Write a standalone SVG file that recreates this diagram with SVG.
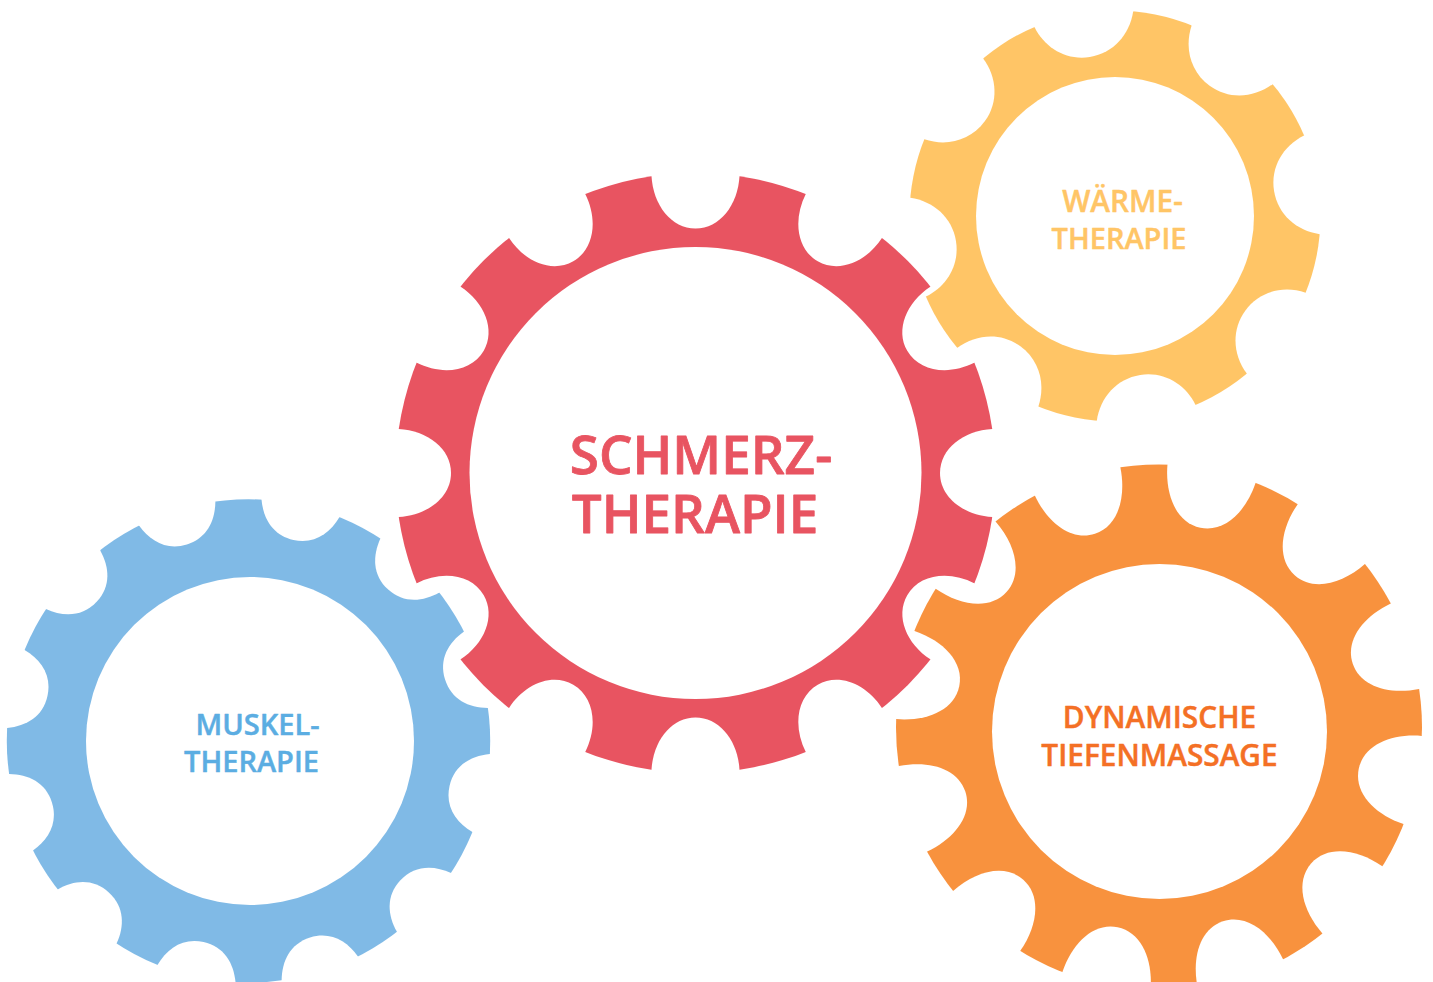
<svg xmlns="http://www.w3.org/2000/svg" width="1433" height="982" viewBox="0 0 1433 982">
<style>
text{font-family:"Open Sans","Noto Sans","Liberation Sans",sans-serif;font-weight:600;text-anchor:middle;stroke-linejoin:round}
.s{font-size:29px;stroke-width:.45px}
.m{font-size:29.8px;stroke-width:.45px}
.l{font-size:53px;stroke-width:.8px}
.red{fill:#E85461;stroke:#E85461}
.yel{fill:#FFC566;stroke:#FFC566}
.ora{fill:#F47025;stroke:#F47025}
.blu{fill:#5BADE2;stroke:#5BADE2}
</style>
<defs>
<path id="nr" d="M-44,-297C-42.5,-268 -24.2,-244.5 0,-244.5C24.2,-244.5 42.5,-268 44,-297V-320H-44Z"/>
<path id="no" d="M-45,-259C-41.3,-229 -24.7,-204 0,-204C24.7,-204 41.3,-229 45,-259V-290H-45Z"/>
<path id="ny" d="M-50,-199.3C-43,-177 -24,-161 0,-161C24,-161 43,-177 50,-199.3V-225H-50Z"/>
<path id="nb" d="M-40,-238.4C-34,-220 -21,-206 0,-206C21,-206 34,-220 40,-238.4V-260H-40Z"/>
<mask id="mr" maskUnits="userSpaceOnUse" x="0" y="0" width="1433" height="982"><g transform="translate(695.5,473)"><circle r="300" fill="#fff"/><circle r="226" fill="#000"/><g fill="#000"><use href="#nr"/><use href="#nr" transform="rotate(30)"/><use href="#nr" transform="rotate(60)"/><use href="#nr" transform="rotate(90)"/><use href="#nr" transform="rotate(120)"/><use href="#nr" transform="rotate(150)"/><use href="#nr" transform="rotate(180)"/><use href="#nr" transform="rotate(210)"/><use href="#nr" transform="rotate(240)"/><use href="#nr" transform="rotate(270)"/><use href="#nr" transform="rotate(300)"/><use href="#nr" transform="rotate(330)"/></g></g></mask>
<mask id="mo" maskUnits="userSpaceOnUse" x="0" y="0" width="1433" height="982"><g transform="translate(1159,727.5)"><circle r="263" fill="#fff"/><g fill="#000"><use href="#no" transform="rotate(11.7)"/><use href="#no" transform="rotate(41.7)"/><use href="#no" transform="rotate(71.7)"/><use href="#no" transform="rotate(101.7)"/><use href="#no" transform="rotate(131.7)"/><use href="#no" transform="rotate(161.7)"/><use href="#no" transform="rotate(191.7)"/><use href="#no" transform="rotate(221.7)"/><use href="#no" transform="rotate(251.7)"/><use href="#no" transform="rotate(281.7)"/><use href="#no" transform="rotate(311.7)"/><use href="#no" transform="rotate(341.7)"/></g></g><circle cx="1159.5" cy="731.5" r="167.5" fill="#000"/></mask>
<mask id="my" maskUnits="userSpaceOnUse" x="0" y="0" width="1433" height="982"><g transform="translate(1115,216)"><circle r="205.5" fill="#fff"/><circle r="139" fill="#000"/><g fill="#000"><use href="#ny" transform="rotate(-9)"/><use href="#ny" transform="rotate(36)"/><use href="#ny" transform="rotate(81)"/><use href="#ny" transform="rotate(126)"/><use href="#ny" transform="rotate(171)"/><use href="#ny" transform="rotate(216)"/><use href="#ny" transform="rotate(261)"/><use href="#ny" transform="rotate(306)"/></g></g></mask>
<mask id="mb" maskUnits="userSpaceOnUse" x="0" y="0" width="1433" height="982"><g transform="translate(248.5,741)"><circle r="241.7" fill="#fff"/><g fill="#000"><use href="#nb" transform="rotate(12.6)"/><use href="#nb" transform="rotate(42.6)"/><use href="#nb" transform="rotate(72.6)"/><use href="#nb" transform="rotate(102.6)"/><use href="#nb" transform="rotate(132.6)"/><use href="#nb" transform="rotate(162.6)"/><use href="#nb" transform="rotate(192.6)"/><use href="#nb" transform="rotate(222.6)"/><use href="#nb" transform="rotate(252.6)"/><use href="#nb" transform="rotate(282.6)"/><use href="#nb" transform="rotate(312.6)"/><use href="#nb" transform="rotate(342.6)"/></g></g><circle cx="250" cy="741" r="164" fill="#000"/></mask>
</defs>
<rect width="1433" height="982" fill="#fff"/>
<g id="connectors"/>
<g id="gear-schmerz"><rect width="1433" height="982" fill="#E85461" mask="url(#mr)"/><text class="l red" x="701" y="474">SCHMERZ-</text><text class="l red" x="695" y="533">THERAPIE</text></g>
<g id="gear-waerme"><rect width="1433" height="982" fill="#FFC566" mask="url(#my)"/><text class="m yel" x="1122.5" y="212">WÄRME-</text><text class="s yel" x="1119" y="249">THERAPIE</text></g>
<g id="gear-massage"><rect width="1433" height="982" fill="#F8923E" mask="url(#mo)"/><text class="m ora" x="1159.5" y="728">DYNAMISCHE</text><text class="m ora" x="1159.5" y="766">TIEFENMASSAGE</text></g>
<g id="gear-muskel"><rect width="1433" height="982" fill="#80BAE6" mask="url(#mb)"/><text class="s blu" x="257.5" y="735">MUSKEL-</text><text class="s blu" x="251.5" y="772">THERAPIE</text></g>
</svg>
